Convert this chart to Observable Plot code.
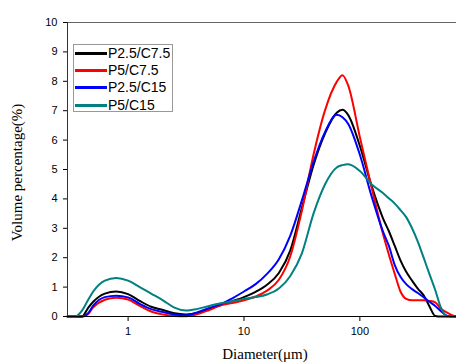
<!DOCTYPE html>
<html><head><meta charset="utf-8">
<script src="https://cdn.jsdelivr.net/npm/d3@7"></script>
<script src="https://cdn.jsdelivr.net/npm/@observablehq/plot@0.6"></script>
<style>
body{margin:0;background:#fff;}
#wrap{position:relative;width:456px;height:363px;overflow:hidden;}
#legend{position:absolute;left:73px;top:44px;width:100px;height:68px;border:1px solid #999;background:#fff;box-sizing:border-box;font:14px "Liberation Sans",Arial,sans-serif;color:#000;}
.row{position:absolute;left:0;height:17px;line-height:17px;white-space:nowrap;}
.sw{position:absolute;left:1px;top:7px;width:32px;height:3px;}
.lab{position:absolute;left:34px;top:0;}
</style>
</head><body>
<div id="wrap"><div id="chart"></div><div id="legend"></div></div>
<script>
const diameters = [0.3,0.35,0.4,0.45,0.5,0.63,0.79,1,1.26,1.58,2,2.51,3.16,3.98,5.01,6.31,7.94,10,12.6,15.8,20,25.1,31.6,39.8,50.1,63.1,70.8,79.4,100,126,158,178,200,224,251,282,316,355,398,447,501,562,631,680];
const seriesNames = ["P2.5/C7.5","P5/C7.5","P2.5/C15","P5/C15"];
const seriesColors = ["#000000","#ff0000","#0000ff","#008080"];
const p25c75 = [0,0,0,0.28,0.5,0.78,0.85,0.76,0.53,0.33,0.22,0.11,0.07,0.12,0.25,0.39,0.52,0.66,0.84,1.08,1.48,2.25,3.7,5.15,6.23,6.93,7.03,6.85,5.8,4.45,3.35,2.9,2.4,1.91,1.52,1.22,0.95,0.72,0.35,0.02,0,0,0,0];
const p5c75 = [0,0,0,0.08,0.31,0.57,0.64,0.58,0.36,0.17,0.07,0.02,0.01,0.08,0.22,0.38,0.46,0.55,0.68,0.88,1.25,2.05,3.6,5.5,7.02,7.98,8.21,7.85,6.1,4.4,2.82,2.1,1.45,0.85,0.6,0.55,0.55,0.55,0.53,0.48,0.26,0.14,0.04,0];
const p25c15 = [0,0,0,0.1,0.37,0.66,0.71,0.65,0.43,0.25,0.15,0.07,0.04,0.15,0.29,0.42,0.62,0.85,1.1,1.45,1.95,2.75,3.95,5.25,6.28,6.86,6.78,6.55,5.5,4.1,2.9,2.4,1.75,1.35,1.1,0.93,0.8,0.66,0.5,0.36,0.18,0.03,0,0];
const p5c15 = [0,0,0.2,0.55,0.85,1.22,1.31,1.22,1.0,0.78,0.55,0.3,0.2,0.26,0.36,0.45,0.52,0.6,0.66,0.75,0.95,1.38,2.15,3.5,4.5,5.07,5.15,5.18,4.95,4.5,4.2,4.02,3.84,3.62,3.38,3.0,2.55,2.0,1.45,0.9,0.3,0,0,0];
const yTicks = [0,1,2,3,4,5,6,7,8,9,10];
const xTicks = [1,10,100];

const seriesValues = [p25c75, p5c75, p25c15, p5c15];
const data = seriesNames.flatMap((name, k) => diameters.map((d, i) => ({d, v: seriesValues[k][i], name})));

const chart = Plot.plot({
  width: 456, height: 363,
  marginLeft: 67, marginRight: 0, marginTop: 22, marginBottom: 47,
  x: {type: "log", domain: [0.3, 682]},
  y: {domain: [0, 10]},
  color: {domain: seriesNames, range: seriesColors},
  style: {fontFamily: "'Liberation Sans', Arial, sans-serif", fontSize: "11px", color: "#000", background: "#fff"},
  marks: [
    Plot.ruleY([10], {stroke: "#666", strokeWidth: 1}),
    Plot.line(data, {x: "d", y: "v", z: "name", stroke: "name", strokeWidth: 2, curve: "monotone-x"}),
    Plot.ruleX([0.3], {stroke: "#333", strokeWidth: 1}),
    Plot.ruleY([0], {stroke: "#000", strokeWidth: 1}),
    Plot.axisY({ticks: yTicks, tickSize: 4, tickPadding: 6, label: null, tickFormat: d => String(d)}),
    Plot.axisX({ticks: xTicks, tickSize: 5, tickPadding: 6, label: null, tickFormat: d => String(d)}),
    Plot.text(["Volume percentage(%)"], {frameAnchor: "left", dx: -50, dy: 3, rotate: -90, textAnchor: "middle", lineAnchor: "middle", fontFamily: "'Liberation Serif', 'Times New Roman', serif", fontSize: 15}),
    Plot.text(["Diameter(μm)"], {frameAnchor: "bottom", dx: 3, dy: 38, textAnchor: "middle", lineAnchor: "middle", fontFamily: "'Liberation Serif', 'Times New Roman', serif", fontSize: 15})
  ]
});
document.getElementById("chart").appendChild(chart);

const legend = document.getElementById("legend");
seriesNames.forEach((name, i) => {
  const row = document.createElement("div");
  row.className = "row";
  row.style.top = (0 + i * 17.2) + "px";
  row.innerHTML = `<span class="sw" style="background:${seriesColors[i]}"></span><span class="lab">${name}</span>`;
  legend.appendChild(row);
});
</script>
</body></html>
